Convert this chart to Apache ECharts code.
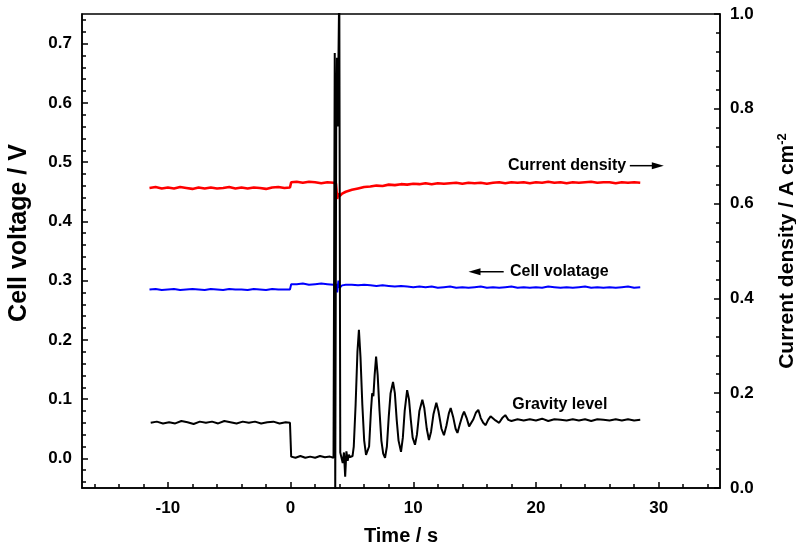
<!DOCTYPE html>
<html><head><meta charset="utf-8">
<script src="https://cdn.jsdelivr.net/npm/echarts@6/dist/echarts.min.js"></script>
<style>html,body{margin:0;padding:0;background:#fff}#c{width:796px;height:551px}</style>
</head><body><div id="c"></div>
<script>
// ---- data ----
const xLabelValues = [-10, 0, 10, 20, 30];
const xMinorValues = [-16,-14,-12,-10,-8,-6,-4,-2,0,2,4,6,8,10,12,14,16,18,20,22,24,26,28,30,32,34];
const leftLabelValues = [0, 0.1, 0.2, 0.3, 0.4, 0.5, 0.6, 0.7];
const leftMinorValues = [-0.04,-0.02,0,0.02,0.04,0.06,0.08,0.1,0.12,0.14,0.16,0.18,0.2,0.22,0.24,0.26,0.28,0.3,0.32,0.34,0.36,0.38,0.4,0.42,0.44,0.46,0.48,0.5,0.52,0.54,0.56,0.58,0.6,0.62,0.64,0.66,0.68,0.7,0.72,0.74];

// Current density (A cm-2, right axis)
const currentDensity = [
 [-11.5,0.633],[-11,0.635],[-10.5,0.632],[-10,0.634],[-9.5,0.632],[-9,0.635],[-8.5,0.633],[-8,0.631],
 [-7.5,0.634],[-7,0.632],[-6.5,0.634],[-6,0.632],[-5.5,0.633],[-5,0.635],[-4.5,0.632],[-4,0.634],
 [-3.5,0.632],[-3,0.634],[-2.5,0.633],[-2,0.631],[-1.5,0.634],[-1,0.635],[-0.5,0.633],[-0.05,0.634],
 [0.05,0.645],[0.5,0.646],[1,0.644],[1.5,0.646],[2,0.645],[2.5,0.643],[3,0.645],[3.5,0.644],
 [3.7,0.642],[3.8,0.610],[3.9,0.622],[4.0,0.616],[4.2,0.621],[4.5,0.625],
 [5,0.629],[5.5,0.632],[6,0.635],[6.5,0.636],[7,0.638],[7.5,0.637],[8,0.640],[8.5,0.639],
 [9,0.641],[9.5,0.640],[10,0.642],[10.5,0.641],[11,0.643],[11.5,0.641],[12,0.643],[12.5,0.642],
 [13,0.643],[13.5,0.644],[14,0.642],[14.5,0.644],[15,0.643],[15.5,0.644],[16,0.642],[16.5,0.644],
 [17,0.645],[17.5,0.643],[18,0.645],[18.5,0.644],[19,0.645],[19.5,0.643],[20,0.645],[20.5,0.644],
 [21,0.646],[21.5,0.644],[22,0.645],[22.5,0.643],[23,0.645],[23.5,0.644],[24,0.645],[24.5,0.646],
 [25,0.644],[25.5,0.645],[26,0.645],[26.5,0.643],[27,0.645],[27.5,0.644],[28,0.645],[28.5,0.644]
];

// Cell voltage (V, left axis)
const cellVoltage = [
 [-11.5,0.285],[-11,0.286],[-10.5,0.284],[-10,0.285],[-9.5,0.286],[-9,0.284],[-8.5,0.285],[-8,0.286],
 [-7.5,0.285],[-7,0.284],[-6.5,0.286],[-6,0.285],[-5.5,0.284],[-5,0.286],[-4.5,0.285],[-4,0.285],
 [-3.5,0.284],[-3,0.286],[-2.5,0.285],[-2,0.284],[-1.5,0.286],[-1,0.285],[-0.5,0.285],[-0.05,0.285],
 [0.05,0.294],[0.5,0.294],[1,0.295],[1.5,0.293],[2,0.294],[2.5,0.295],[3,0.294],[3.5,0.293],
 [3.7,0.294],[3.8,0.280],[3.9,0.300],[4.0,0.288],[4.2,0.292],[4.5,0.293],
 [5,0.293],[5.5,0.292],[6,0.293],[6.5,0.292],[7,0.291],[7.5,0.292],[8,0.291],[8.5,0.290],
 [9,0.291],[9.5,0.290],[10,0.289],[10.5,0.290],[11,0.289],[11.5,0.290],[12,0.288],[12.5,0.289],
 [13,0.290],[13.5,0.288],[14,0.289],[14.5,0.288],[15,0.289],[15.5,0.290],[16,0.288],[16.5,0.289],
 [17,0.288],[17.5,0.289],[18,0.290],[18.5,0.288],[19,0.289],[19.5,0.288],[20,0.289],[20.5,0.288],
 [21,0.290],[21.5,0.289],[22,0.288],[22.5,0.289],[23,0.288],[23.5,0.289],[24,0.290],[24.5,0.288],
 [25,0.289],[25.5,0.288],[26,0.289],[26.5,0.288],[27,0.289],[27.5,0.290],[28,0.288],[28.5,0.289]
];

// Gravity level (plotted on the left scale)
const gravityLevel = [
 [-11.4,0.060],[-10.9,0.062],[-10.4,0.059],[-9.9,0.061],[-9.4,0.059],[-8.9,0.063],[-8.4,0.061],[-7.9,0.058],
 [-7.4,0.062],[-6.9,0.060],[-6.4,0.062],[-5.9,0.059],[-5.4,0.063],[-4.9,0.061],[-4.4,0.059],[-3.9,0.062],
 [-3.4,0.060],[-2.9,0.062],[-2.4,0.059],[-1.9,0.061],[-1.4,0.062],[-0.9,0.059],[-0.4,0.061],[-0.05,0.060],
 [0.05,0.003],[0.4,0.001],[0.8,0.004],[1.2,0.001],[1.6,0.003],[2.0,0.001],[2.4,0.004],[2.8,0.002],
 [3.2,0.003],[3.5,0.001],[3.56,0.002],[3.6,0.684],[3.64,-0.06],[3.72,0.56],[3.78,0.676],[3.84,0.56],
 [3.9,0.67],[3.97,0.80],[4.05,0.01],[4.15,0.012],[4.25,-0.008],[4.35,0.010],[4.45,-0.031],[4.55,0.012],
 [4.65,-0.004],[4.75,0.006],[4.85,0.002],[4.95,0.005],[5.05,0.004],[5.15,0.02],[5.3,0.09],[5.45,0.18],
 [5.57,0.217],[5.7,0.17],[5.85,0.09],[6.0,0.03],[6.15,0.006],[6.25,0.003],[6.4,0.02],[6.55,0.08],
 [6.65,0.110],[6.75,0.105],[6.85,0.14],[6.97,0.172],[7.1,0.14],[7.25,0.08],[7.4,0.03],[7.55,0.008],
 [7.7,0.001],[7.85,0.02],[8.0,0.07],[8.15,0.11],[8.35,0.129],[8.5,0.11],[8.65,0.065],[8.8,0.03],
 [9.0,0.011],[9.15,0.035],[9.3,0.08],[9.5,0.115],[9.65,0.1],[9.8,0.065],[9.95,0.035],[10.14,0.023],
 [10.3,0.04],[10.5,0.08],[10.74,0.099],[10.9,0.085],[11.1,0.05],[11.28,0.031],[11.45,0.045],[11.65,0.075],
 [11.88,0.094],[12.05,0.08],[12.3,0.05],[12.5,0.039],[12.7,0.055],[12.9,0.076],[13.05,0.085],[13.25,0.07],
 [13.45,0.05],[13.6,0.043],[13.8,0.058],[14.0,0.072],[14.14,0.079],[14.35,0.068],[14.55,0.054],[14.7,0.051],
 [14.9,0.066],[15.1,0.077],[15.3,0.082],[15.5,0.068],[15.7,0.06],[15.9,0.056],[16.1,0.065],[16.3,0.071],
 [16.45,0.073],[16.7,0.064],[17.0,0.060],[17.25,0.068],[17.5,0.073],[17.75,0.065],[18.0,0.063],
 [18.5,0.066],[19,0.064],[19.5,0.066],[20,0.064],[20.5,0.067],[21,0.063],[21.5,0.066],[22,0.065],
 [22.5,0.064],[23,0.066],[23.5,0.064],[24,0.066],[24.5,0.063],[25,0.066],[25.5,0.065],[26,0.064],
 [26.5,0.066],[27,0.064],[27.5,0.066],[28,0.064],[28.5,0.065]
];

// annotation anchors (data units of time / left axis)
const notes = [
 {text:'Current density', at:[17.72,0.494], arrow:[[27.65,0.494],[30.42,0.494]]},
 {text:'Cell volatage', at:[17.88,0.315], arrow:[[17.37,0.315],[14.5,0.315]]},
 {text:'Gravity level', at:[18.07,0.090], arrow:null}
];

// ---- chart ----
const FONT = "'Liberation Sans', Arial, sans-serif";
const chart = echarts.init(document.getElementById('c'), null, {renderer:'canvas'});
const axisLineStyle = {color:'#000', width:1.5};
const option = {
  animation:false,
  backgroundColor:'#fff',
  grid:{left:82, right:76, top:14, bottom:63, containLabel:false, outerBoundsMode:'none',
        show:true, borderColor:'#000', borderWidth:1.5, backgroundColor:'transparent'},
  xAxis:[{
    type:'value', min:-17, max:35, position:'bottom',
    name:'Time / s', nameLocation:'middle', nameGap:38,
    nameTextStyle:{fontFamily:FONT, fontWeight:'bold', fontSize:20, color:'#000'},
    axisLine:{show:true, onZero:false, lineStyle:axisLineStyle},
    axisTick:{show:true, inside:true, length:6, customValues:xLabelValues, lineStyle:{color:'#000', width:1.5}},
    axisLabel:{show:true, customValues:xLabelValues, margin:12, fontFamily:FONT, fontWeight:'bold', fontSize:17, color:'#000'},
    splitLine:{show:false}
  },{
    type:'value', min:-17, max:35, position:'bottom',
    axisLine:{show:false, onZero:false},
    axisTick:{show:true, inside:true, length:4, customValues:xMinorValues, lineStyle:{color:'#000', width:1.5}},
    axisLabel:{show:false}, splitLine:{show:false}
  }],
  yAxis:[{
    type:'value', min:-0.05, max:0.75, position:'left',
    name:'Cell voltage / V', nameLocation:'middle', nameGap:50, nameRotate:90,
    nameTextStyle:{fontFamily:FONT, fontWeight:'bold', fontSize:25, color:'#000', padding:[0,0,0,36]},
    axisLine:{show:true, onZero:false, lineStyle:axisLineStyle},
    axisTick:{show:true, inside:true, length:6, customValues:leftLabelValues, lineStyle:{color:'#000', width:1.5}},
    axisLabel:{show:true, customValues:leftLabelValues, margin:10, formatter:v=>v.toFixed(1), fontFamily:FONT, fontWeight:'bold', fontSize:17, color:'#000'},
    splitLine:{show:false}
  },{
    type:'value', min:0, max:1.0, interval:0.2, position:'right',
    name:'Current density / A cm{sup|-2}', nameLocation:'middle', nameGap:56, nameRotate:90,
    nameTextStyle:{fontFamily:FONT, fontWeight:'bold', fontSize:21, color:'#000',
      rich:{sup:{fontFamily:FONT, fontWeight:'bold', fontSize:13, color:'#000', padding:[0,0,10,0]}}},
    axisLine:{show:true, onZero:false, lineStyle:axisLineStyle},
    axisTick:{show:true, inside:true, length:6, lineStyle:{color:'#000', width:1.5}},
    minorTick:{show:true, splitNumber:5, length:4, lineStyle:{color:'#000', width:1.5}},
    axisLabel:{show:true, margin:10, formatter:v=>v.toFixed(1), fontFamily:FONT, fontWeight:'bold', fontSize:17, color:'#000'},
    splitLine:{show:false}
  },{
    type:'value', min:-0.05, max:0.75, position:'left', offset:0,
    axisLine:{show:false, onZero:false},
    axisTick:{show:true, inside:true, length:4, customValues:leftMinorValues, lineStyle:{color:'#000', width:1.5}},
    axisLabel:{show:false}, splitLine:{show:false}
  }],
  series:[
    {type:'line', name:'Current density', xAxisIndex:0, yAxisIndex:1, data:currentDensity, showSymbol:false, symbol:'none',
     lineStyle:{color:'#ff0000', width:2.6}, z:2},
    {type:'line', name:'Cell voltage', xAxisIndex:0, yAxisIndex:0, data:cellVoltage, showSymbol:false, symbol:'none',
     lineStyle:{color:'#0000ff', width:2}, z:3},
    {type:'line', name:'Gravity level', xAxisIndex:0, yAxisIndex:0, data:gravityLevel, showSymbol:false, symbol:'none',
     lineStyle:{color:'#000', width:2}, z:4}
  ]
};
chart.setOption(option);

// annotations placed through the axes
const toPx = p => chart.convertToPixel({xAxisIndex:0, yAxisIndex:0}, p);
const graphics = [];
notes.forEach(n => {
  const p = toPx(n.at);
  graphics.push({type:'text', x:p[0], y:p[1], z:100,
    style:{text:n.text, fill:'#000', font:"bold 16px " + FONT, textVerticalAlign:'middle', textAlign:'left'}});
  if (n.arrow) {
    const a = toPx(n.arrow[0]), b = toPx(n.arrow[1]);
    const dir = Math.sign(b[0]-a[0]);
    const hl = 12, hw = 3.5;
    graphics.push({type:'line', z:100, shape:{x1:a[0], y1:a[1], x2:b[0]-dir*hl*0.6, y2:b[1]}, style:{stroke:'#000', lineWidth:1.5}});
    graphics.push({type:'polygon', z:100, shape:{points:[[b[0],b[1]],[b[0]-dir*hl,b[1]-hw],[b[0]-dir*hl,b[1]+hw]]}, style:{fill:'#000'}});
  }
});
chart.setOption({graphic:graphics});
</script>
</body></html>
